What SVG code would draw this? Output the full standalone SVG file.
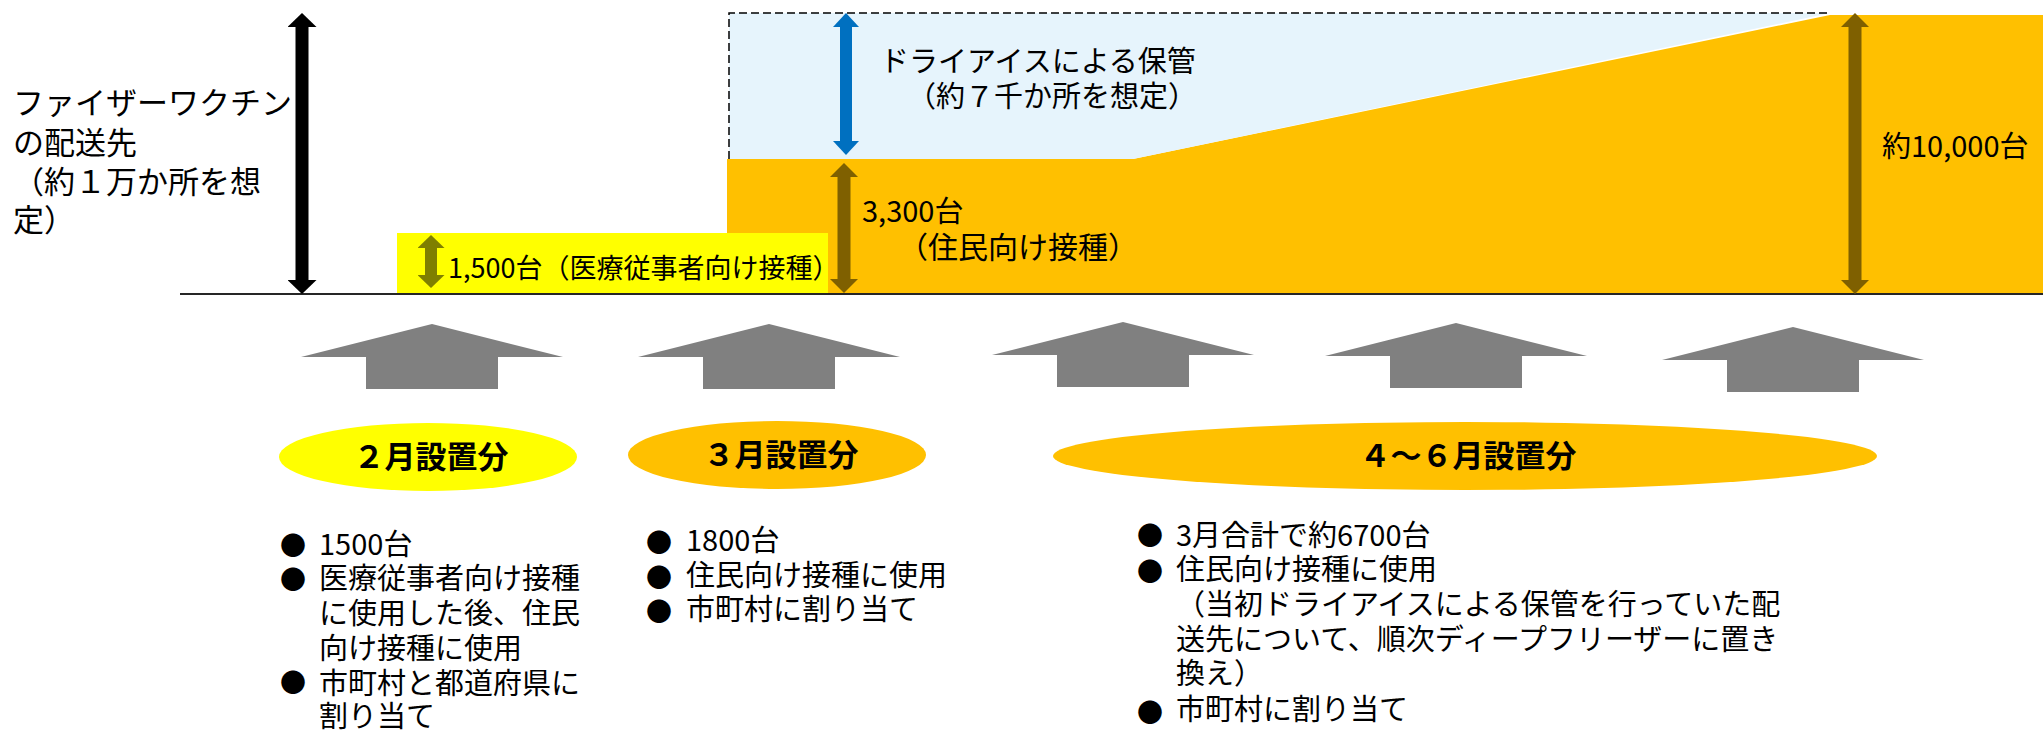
<svg xmlns="http://www.w3.org/2000/svg" width="2043" height="731" viewBox="0 0 2043 731">
<style>
  .t { font-family: "Noto Sans CJK JP", "Liberation Sans", sans-serif; fill: #000; }
  .lbl { font-size: 30px; }
  .big { font-size: 31px; }
  .list { font-size: 29px; }
  .head { font-size: 31px; font-weight: bold; text-anchor: middle; }
  .bul { font-family: "Noto Sans CJK JP", sans-serif; font-size: 26px; text-anchor: middle; fill: #000; }
  .upArrow { fill: #808080; }
</style>
<defs>
  <path id="up" d="M0,0 L131,33 L66,33 L66,65 L-66,65 L-66,33 L-131,33 Z"/>
  <marker id="mBlack" viewBox="0 0 14 29" refX="0" refY="14.5" markerWidth="14" markerHeight="29" markerUnits="userSpaceOnUse" orient="auto-start-reverse"><path d="M0,0 L14,14.5 L0,29 Z" fill="#000000"/></marker>
  <marker id="mOlive" viewBox="0 0 13 27" refX="0" refY="13.5" markerWidth="13" markerHeight="27" markerUnits="userSpaceOnUse" orient="auto-start-reverse"><path d="M0,0 L13,13.5 L0,27 Z" fill="#7F7F00"/></marker>
  <marker id="mBlue" viewBox="0 0 14 26" refX="0" refY="13" markerWidth="14" markerHeight="26" markerUnits="userSpaceOnUse" orient="auto-start-reverse"><path d="M0,0 L14,13 L0,26 Z" fill="#0070C0"/></marker>
  <marker id="mBrown" viewBox="0 0 14 28" refX="0" refY="14" markerWidth="14" markerHeight="28" markerUnits="userSpaceOnUse" orient="auto-start-reverse"><path d="M0,0 L14,14 L0,28 Z" fill="#7F6000"/></marker>
</defs>

<g id="area-resident">
  <polygon points="727,159 1133,159 1830,15 2043,15 2043,294 727,294" fill="#FFC000"/>
</g>
<g id="area-dryice">
  <polygon points="729,13 1830,13 1133,159 729,159" fill="#E6F4FC"/>
  <path d="M729,159 L729,13 L1830,13" fill="none" stroke="#000" stroke-width="1.5" stroke-dasharray="8,4"/>
</g>
<g id="area-medical">
  <rect x="397" y="233" width="431" height="61" fill="#FFFF00"/>
</g>
<g id="baseline">
  <line x1="180" y1="294" x2="2043" y2="294" stroke="#262626" stroke-width="2"/>
</g>

<g id="label-pfizer">
  <text class="t big" x="13" y="114">ファイザーワクチン</text>
  <text class="t big" x="13" y="154">の配送先</text>
  <text class="t big" x="13" y="193">（約１万か所を想</text>
  <text class="t big" x="13" y="231">定）</text>
</g>

<g id="connectors">
  <line x1="302" y1="27" x2="302" y2="280" stroke="#000000" stroke-width="13" marker-start="url(#mBlack)" marker-end="url(#mBlack)"/>
  <line x1="431" y1="248" x2="431" y2="275" stroke="#7F7F00" stroke-width="12" marker-start="url(#mOlive)" marker-end="url(#mOlive)"/>
  <line x1="846" y1="27" x2="846" y2="141" stroke="#0070C0" stroke-width="12" marker-start="url(#mBlue)" marker-end="url(#mBlue)"/>
  <line x1="844" y1="177" x2="844" y2="279" stroke="#7F6000" stroke-width="13" marker-start="url(#mBrown)" marker-end="url(#mBrown)"/>
  <line x1="1855" y1="27" x2="1855" y2="280" stroke="#7F6000" stroke-width="13" marker-start="url(#mBrown)" marker-end="url(#mBrown)"/>
</g>

<g id="label-dryice">
  <text class="t list" x="880" y="72">ドライアイスによる保管</text>
  <text class="t list" x="907" y="107">（約７千か所を想定）</text>
</g>
<g id="label-3300">
  <text class="t list" x="862" y="222">3,300台</text>
  <text class="t lbl" x="898" y="258">（住民向け接種）</text>
</g>
<g id="label-1500">
  <text class="t" font-size="27" x="448" y="278">1,500台（医療従事者向け接種）</text>
</g>
<g id="label-10000">
  <text class="t list" x="1882" y="157">約10,000台</text>
</g>

<g id="arrow-1"><use href="#up" class="upArrow" transform="translate(432,324)"/></g>
<g id="arrow-2"><use href="#up" class="upArrow" transform="translate(769,324)"/></g>
<g id="arrow-3"><use href="#up" class="upArrow" transform="translate(1123,322)"/></g>
<g id="arrow-4"><use href="#up" class="upArrow" transform="translate(1456,323)"/></g>
<g id="arrow-5"><use href="#up" class="upArrow" transform="translate(1793,327)"/></g>

<g id="feb">
  <ellipse cx="428" cy="457" rx="149" ry="34" fill="#FFFF00"/>
  <text class="t head" x="431" y="468">２月設置分</text>
</g>
<g id="mar">
  <ellipse cx="777" cy="455" rx="149" ry="34" fill="#FFC000"/>
  <text class="t head" x="781" y="466">３月設置分</text>
</g>
<g id="apr-jun">
  <ellipse cx="1465" cy="456" rx="412" ry="34" fill="#FFC000"/>
  <text class="t head" x="1468" y="467">４～６月設置分</text>
</g>

<g id="list-feb">
  <text class="bul" x="293" y="555">●</text>
  <text class="t list" x="319" y="555">1500台</text>
  <text class="bul" x="293" y="589">●</text>
  <text class="t list" x="319" y="589">医療従事者向け接種</text>
  <text class="t list" x="319" y="624">に使用した後、住民</text>
  <text class="t list" x="319" y="659">向け接種に使用</text>
  <text class="bul" x="293" y="692">●</text>
  <text class="t list" x="319" y="694">市町村と都道府県に</text>
  <text class="t list" x="319" y="727">割り当て</text>
</g>
<g id="list-mar">
  <text class="bul" x="659" y="552">●</text>
  <text class="t list" x="686" y="551">1800台</text>
  <text class="bul" x="659" y="587">●</text>
  <text class="t list" x="686" y="586">住民向け接種に使用</text>
  <text class="bul" x="659" y="621">●</text>
  <text class="t list" x="686" y="620">市町村に割り当て</text>
</g>
<g id="list-apr-jun">
  <text class="bul" x="1150" y="545">●</text>
  <text class="t list" x="1176" y="546">3月合計で約6700台</text>
  <text class="bul" x="1150" y="581">●</text>
  <text class="t list" x="1176" y="580">住民向け接種に使用</text>
  <text class="t list" x="1176" y="615">（当初ドライアイスによる保管を行っていた配</text>
  <text class="t list" x="1176" y="650">送先について、順次ディープフリーザーに置き</text>
  <text class="t list" x="1176" y="684">換え）</text>
  <text class="bul" x="1150" y="722">●</text>
  <text class="t list" x="1176" y="720">市町村に割り当て</text>
</g>
</svg>
